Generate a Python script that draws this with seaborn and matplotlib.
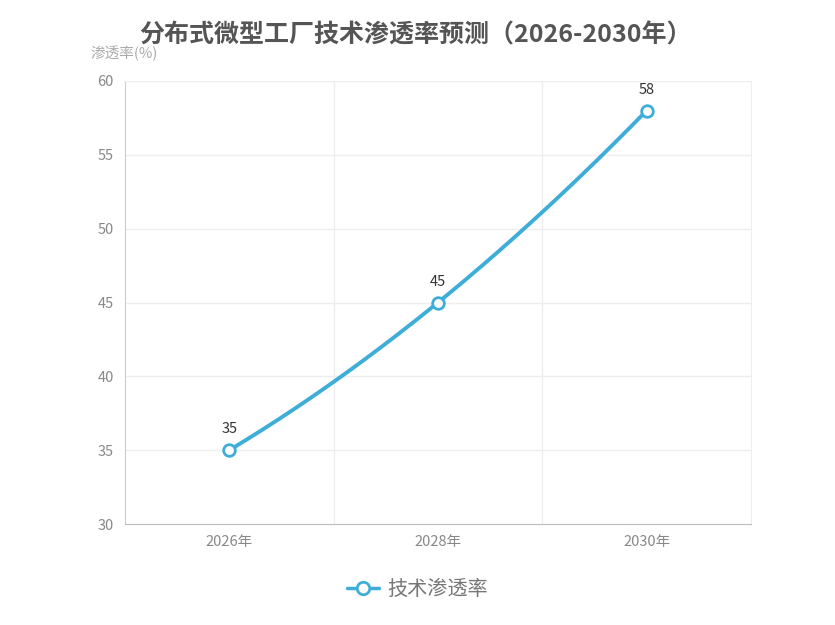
import numpy as np
import pandas as pd
import matplotlib
matplotlib.use('Agg')
import matplotlib.pyplot as plt
import seaborn as sns
from matplotlib.lines import Line2D

# data
years = ['2026年', '2028年', '2030年']
rate = [35, 45, 58]

sns.set_style('white')
plt.rcParams['font.family'] = ['Noto Sans CJK SC', 'DejaVu Sans']

line_color = '#3eaed9'

fig = plt.figure(figsize=(8.35, 6.25), dpi=100)
ax = fig.add_axes([0.1497, 0.1616, 0.7497, 0.7088])

df = pd.DataFrame({'pos': np.arange(len(years)), 'rate': rate})

# smooth curve through the points (quadratic through the three values)
coef = np.polyfit(df['pos'], df['rate'], 2)
xs = np.linspace(df['pos'].min(), df['pos'].max(), 200)
smooth = pd.DataFrame({'pos': xs, 'rate': np.polyval(coef, xs)})
sns.lineplot(data=smooth, x='pos', y='rate', ax=ax, color=line_color, lw=2.8, zorder=3)
sns.scatterplot(data=df, x='pos', y='rate', ax=ax, s=70, marker='o', facecolor='white',
                edgecolor=line_color, linewidth=2, zorder=4)

for p, v in zip(df['pos'], df['rate']):
    ax.annotate(str(v), (p, v), xytext=(0, 10), textcoords='offset points',
                ha='center', va='bottom', fontsize=10.5, color='#333333')

ax.set_xlim(-0.5, len(years) - 0.5)
ax.set_ylim(30, 60)
ax.set_yticks(range(30, 61, 5))
ax.set_xticks(df['pos'])
ax.set_xticklabels(years)
ax.tick_params(axis='both', colors='#999999', labelsize=10.5, length=0, pad=8)
for lbl in ax.get_xticklabels() + ax.get_yticklabels():
    lbl.set_color('#888888')

for b in np.arange(0.5, len(years) - 0.5, 1):
    ax.axvline(b, color='#eeeeee', lw=1, zorder=0)
for y in range(35, 61, 5):
    ax.axhline(y, color='#eeeeee', lw=1, zorder=0)

for s in ['top', 'right']:
    ax.spines[s].set_color('#eeeeee')
ax.spines['left'].set_color('#cccccc')
ax.spines['bottom'].set_color('#bbbbbb')
ax.set_xlabel('')
ax.set_ylabel('')

fig.text(0.149, 0.914, '渗透率(%)', fontsize=10.5, color='#aaaaaa', ha='center', va='center')
fig.text(0.497, 0.944, '分布式微型工厂技术渗透率预测（2026-2030年）', fontsize=18,
         fontweight='bold', color='#555555', ha='center', va='center')

handle = Line2D([], [], color=line_color, lw=2.5, marker='o', markersize=9,
                markerfacecolor='white', markeredgewidth=2, markeredgecolor=line_color)
fig.legend([handle], ['技术渗透率'], loc='center', bbox_to_anchor=(0.5, 0.057),
           frameon=False, fontsize=14.5, labelcolor='#777777', handlelength=1.6, handletextpad=0.4)

fig.savefig('out.png', dpi=100)
